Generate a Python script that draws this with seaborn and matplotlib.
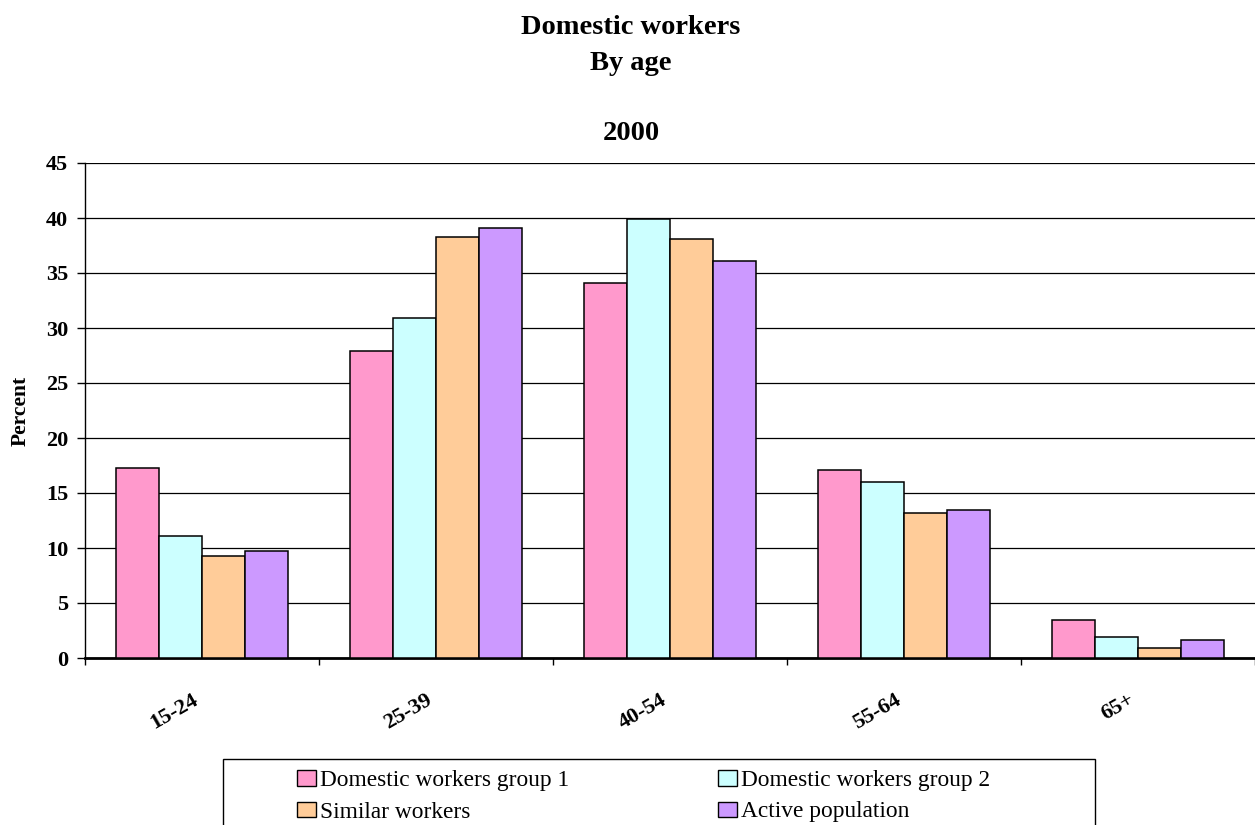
import matplotlib
matplotlib.use("Agg")
import matplotlib.pyplot as plt
from matplotlib.patches import Patch, Rectangle
from matplotlib.ticker import FixedLocator, MultipleLocator
import seaborn as sns
import pandas as pd

# Share of workers in each age band (percent), year 2000
age_groups = ["15-24", "25-39", "40-54", "55-64", "65+"]
domestic_group1 = [17.3, 27.9, 34.1, 17.1, 3.5]
domestic_group2 = [11.1, 30.9, 39.9, 16.0, 1.9]
similar_workers = [9.3, 38.3, 38.1, 13.2, 0.9]
active_population = [9.7, 39.1, 36.1, 13.5, 1.6]

series_names = ["Domestic workers group 1", "Domestic workers group 2",
                "Similar workers", "Active population"]
series_values = [domestic_group1, domestic_group2, similar_workers, active_population]
series_colors = ["#FF99CC", "#CCFFFF", "#FFCC99", "#CC99FF"]

rows = []
for name, vals in zip(series_names, series_values):
    for age, v in zip(age_groups, vals):
        rows.append({"Age": age, "Series": name, "Percent": v})
df = pd.DataFrame(rows)

sns.set_style("white")
plt.rcParams["font.family"] = ["Liberation Serif", "DejaVu Serif"]
plt.rcParams.update({"text.color": "black", "axes.labelcolor": "black",
                     "xtick.color": "black", "ytick.color": "black"})

W, H = 1255, 825
fig = plt.figure(figsize=(W / 100, H / 100), dpi=100)
ax = fig.add_axes([85 / W, 1 - 658 / H, (W - 85) / W, (658 - 163) / H])

sns.barplot(data=df, x="Age", y="Percent", hue="Series", order=age_groups,
            hue_order=series_names, palette=series_colors, width=0.734,
            edgecolor="black", linewidth=1.1, saturation=1, ax=ax,
            legend=False, zorder=3)

ax.set_xlim(-0.5, len(age_groups) - 0.5)
ax.set_ylim(0, 45)
ax.yaxis.set_major_locator(MultipleLocator(5))
ax.grid(axis="y", color="black", linewidth=0.9, zorder=0)
ax.set_axisbelow(True)

for side in ("top", "right"):
    ax.spines[side].set_visible(False)
ax.spines["left"].set_color("black")
ax.spines["left"].set_linewidth(1.0)
ax.spines["bottom"].set_color("black")
ax.spines["bottom"].set_linewidth(2.0)

# category labels centred, boundary ticks between categories
ax.xaxis.set_minor_locator(FixedLocator([i - 0.5 for i in range(len(age_groups) + 1)]))
ax.tick_params(axis="x", which="major", length=0, pad=23)
ax.tick_params(axis="x", which="minor", length=5, width=1, color="black",
               direction="out", bottom=True)
ax.tick_params(axis="y", which="major", length=6, width=1, color="black",
               direction="out", left=True, pad=6)
ax.set_xticks(range(len(age_groups)))
ax.set_xticklabels(age_groups, rotation=30, ha="right", va="top",
                   fontsize=16, fontweight="bold", color="black")
for lab in ax.get_yticklabels():
    lab.set_fontsize(16)
    lab.set_fontweight("bold")
    lab.set_color("black")
ax.set_xlabel("")
ax.set_ylabel("")

fig.text(21 / W, 1 - 410.5 / H, "Percent", rotation=90, ha="center", va="center",
         fontsize=15.5, fontweight="bold")

fig.text(631 / W, 1 - 34.5 / H, "Domestic workers", ha="center", va="baseline",
         fontsize=20.5, fontweight="bold")
fig.text(631 / W, 1 - 70.5 / H, "By age", ha="center", va="baseline",
         fontsize=20.5, fontweight="bold")
fig.text(631 / W, 1 - 140 / H, "2000", ha="center", va="baseline",
         fontsize=20.5, fontweight="bold")

# legend box and entries
fig.add_artist(Rectangle((223 / W, -0.05), (1095 - 223) / W, 0.05 + 1 - 759 / H,
                         transform=fig.transFigure, facecolor="white",
                         edgecolor="black", linewidth=1.0))
handles = [Patch(facecolor=c, edgecolor="black", linewidth=1.0) for c in series_colors]
order = [0, 2, 1, 3]
fig.legend([handles[i] for i in order], [series_names[i] for i in order],
           ncol=2, loc="upper left", bbox_to_anchor=(297 / W, 1 - 770 / H),
           bbox_transform=fig.transFigure, frameon=False, borderpad=0,
           borderaxespad=0, fontsize=16.8, handlelength=0.82, handleheight=0.65,
           handletextpad=0.15, columnspacing=6.4, labelspacing=0.45)

fig.savefig("out.png", dpi=100)
